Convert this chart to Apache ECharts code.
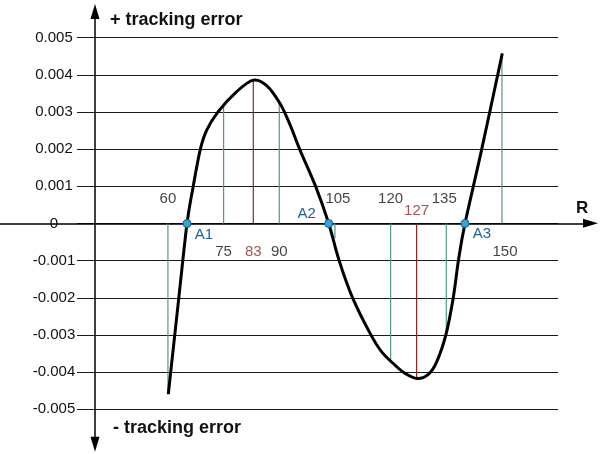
<!DOCTYPE html>
<html>
<head>
<meta charset="utf-8">
<script src="https://cdn.jsdelivr.net/npm/echarts@6/dist/echarts.min.js"></script>
<style>html,body{margin:0;padding:0;background:#fff}#c{width:600px;height:454px}</style>
</head>
<body>
<div id="c"></div>
<script>
// ---- data ----
const curveR = [60.10, 62.93, 65.14, 66.76, 68.72, 70.45, 73.49, 78.53, 83.00,
  86.61, 90.20, 92.89, 95.59, 99.90, 103.32,
  106.09, 109.73, 114.66, 117.60, 121.18, 123.88, 127.11,
  130.15, 132.42, 134.92, 136.89, 138.29, 140.04,
  144.54, 150.09];
const curveV = [-0.004591, -0.002000, 0, 0.000971, 0.001994, 0.002513, 0.003006, 0.003550, 0.003859,
  0.003711, 0.003227, 0.002661, 0.001975, 0.000971, 0,
  -0.000985, -0.001994, -0.002990, -0.003453, -0.003811, -0.004034, -0.004174,
  -0.004061, -0.003722, -0.002984, -0.001989, -0.000985, 0,
  0.001994, 0.004577];
const markR = [60, 75, 83, 90, 105, 120, 127, 135, 150];
const markV = [-0.0046, 0.00318, 0.00386, 0.00323, -0.0004, -0.0037, -0.00417, -0.003, 0.00458];
const extremeR = [83, 127];
const zeroNames = ['A1', 'A2', 'A3'];
const zeroR = [65.14, 103.32, 140.04];
const yTicks = [-0.005, -0.004, -0.003, -0.002, -0.001, 0, 0.001, 0.002, 0.003, 0.004, 0.005];
const topText = '+ tracking error';
const bottomText = '- tracking error';
const axisName = 'R';

// ---- styles / layout ----
const FONT = 'Liberation Sans, Arial, sans-serif';
const GREEN = '#4e9d78', RED = '#8e2424', BLUE = '#1f5f99';

const chart = echarts.init(document.getElementById('c'));

const barData = markR.map((r, i) => ({
  value: [r, markV[i]],
  itemStyle: { color: extremeR.includes(r) ? RED : GREEN }
}));

const labelData = markR.map((r, i) => {
  const red = extremeR.includes(r);
  let dy = markV[i] > 0 ? 28 : -25;
  if (red && markV[i] < 0) dy = -13;
  let dx = 0;
  if (r === 105 || r === 150) dx = 3;
  if (r === 135) dx = -2;
  return {
    value: [r, 0],
    label: {
      show: true, position: 'inside', formatter: String(r),
      offset: [dx, dy], color: red ? RED : '#111', fontSize: 15, fontFamily: FONT
    }
  };
});

const zeroOffsets = [[17, 11], [-22, -10], [17, 10]];
const zeroData = zeroR.map((r, i) => ({
  value: [r, 0],
  label: {
    show: true, position: 'inside', formatter: zeroNames[i],
    offset: zeroOffsets[i], color: BLUE, fontSize: 15, fontFamily: FONT
  }
}));

// smooth curve through the data points, positioned by the axes (api.coord)
function renderCurve(params, api) {
  if (params.dataIndex !== 0) return null;
  const p = curveR.map((r, i) => api.coord([r, curveV[i]]));
  const n = p.length;
  let d = 'M' + p[0][0] + ',' + p[0][1];
  for (let i = 0; i < n - 1; i++) {
    const p0 = p[Math.max(i - 1, 0)], p1 = p[i], p2 = p[i + 1], p3 = p[Math.min(i + 2, n - 1)];
    const c1x = p1[0] + (p2[0] - p0[0]) / 6, c1y = p1[1] + (p2[1] - p0[1]) / 6;
    const c2x = p2[0] - (p3[0] - p1[0]) / 6, c2y = p2[1] - (p3[1] - p1[1]) / 6;
    d += ' C' + c1x + ',' + c1y + ' ' + c2x + ',' + c2y + ' ' + p2[0] + ',' + p2[1];
  }
  return {
    type: 'path',
    shape: { pathData: d },
    style: { fill: 'none', stroke: '#000', lineWidth: 3, lineJoin: 'round' }
  };
}

const option = {
  animation: false,
  backgroundColor: '#fff',
  title: [
    { text: topText, left: 110, top: 10.5, padding: 0,
      textStyle: { fontSize: 18, fontWeight: 'bold', color: '#111', fontFamily: FONT, lineHeight: 20 } },
    { text: bottomText, left: 113, top: 418, padding: 0,
      textStyle: { fontSize: 18, fontWeight: 'bold', color: '#111', fontFamily: FONT, lineHeight: 20 } },
    { text: axisName, left: 576, top: 198, padding: 0,
      textStyle: { fontSize: 17, fontWeight: 'bold', color: '#111', fontFamily: FONT, lineHeight: 20 } }
  ],
  grid: [
    { left: 77, right: 42, top: 37.7, bottom: 44.7 },
    { left: 0, right: 9.5, top: 11.5, bottom: 9.8 }
  ],
  xAxis: [
    { type: 'value', gridIndex: 0, min: 35.5, max: 165.1, show: false },
    { type: 'value', gridIndex: 1, min: -95, max: 495.5,
      axisLine: { show: true, onZero: true, symbol: ['none', 'triangle'], symbolSize: [9, 15],
        lineStyle: { color: '#000', width: 1.5 } },
      axisTick: { show: false }, axisLabel: { show: false }, splitLine: { show: false } }
  ],
  yAxis: [
    { type: 'value', gridIndex: 0, min: yTicks[0], max: yTicks[yTicks.length - 1], interval: 0.001,
      axisLine: { show: false }, axisTick: { show: false },
      splitLine: { show: true, lineStyle: { color: '#1a1a1a', width: 1 } },
      axisLabel: {
        align: 'center', margin: 23, fontSize: 15, color: '#111', fontFamily: FONT,
        formatter: v => Math.abs(v) < 1e-9 ? '0' : v.toFixed(3)
      } },
    { type: 'value', gridIndex: 1, min: -220.9, max: 211.8,
      axisLine: { show: true, onZero: true, symbol: ['triangle', 'triangle'], symbolSize: [9, 15],
        lineStyle: { color: '#000', width: 1.5 } },
      axisTick: { show: false }, axisLabel: { show: false }, splitLine: { show: false } }
  ],
  series: [
    {
      type: 'bar', xAxisIndex: 0, yAxisIndex: 0, barWidth: 1.2, z: 2,
      data: barData,
      markLine: {
        silent: true, symbol: 'none', label: { show: false },
        lineStyle: { color: '#707070', width: 2, type: 'solid' },
        data: [{ yAxis: yTicks[0] }]
      }
    },
    {
      type: 'custom', coordinateSystem: 'cartesian2d', xAxisIndex: 0, yAxisIndex: 0, z: 3,
      renderItem: renderCurve,
      encode: { x: 0, y: 1 },
      data: curveR.map((r, i) => [r, curveV[i]])
    },
    {
      type: 'scatter', xAxisIndex: 0, yAxisIndex: 0, z: 4,
      symbolSize: 0, data: labelData
    },
    {
      type: 'scatter', xAxisIndex: 0, yAxisIndex: 0, z: 5,
      symbol: 'circle', symbolSize: 8,
      itemStyle: { color: '#2aa9e0', borderColor: '#1a5a8a', borderWidth: 1, opacity: 1 },
      data: zeroData
    }
  ]
};
chart.setOption(option);
</script>
</body>
</html>
